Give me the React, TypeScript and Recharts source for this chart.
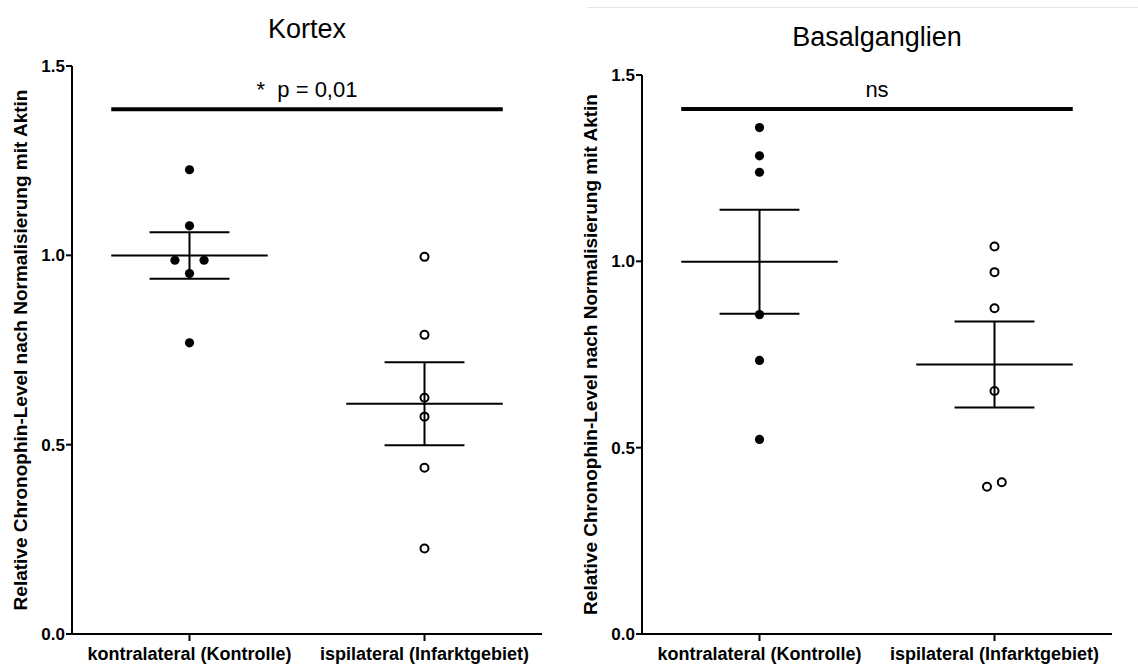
import { ReferenceLine, Scatter, ScatterChart, XAxis, YAxis } from 'recharts';

// Gruppen und Achsen
const groups = ['kontralateral (Kontrolle)', 'ispilateral (Infarktgebiet)'];
const yTicks = [0, 0.5, 1.0, 1.5];

// Kortex (Einzelwerte, Jitter in Kategorie-Einheiten)
const kortexKontrolle = [1.226, 1.078, 0.987, 0.987, 0.952, 0.769];
const kortexKontrolleJitter = [0, 0, -0.062, 0.062, 0, 0];
const kortexInfarkt = [0.996, 0.79, 0.624, 0.574, 0.439, 0.226];
const kortexInfarktJitter = [0, 0, 0, 0, 0, 0];
const kortexSig = { y: 1.386, text: '*\u00A0 p = 0,01' };

// Basalganglien
const basalKontrolle = [1.359, 1.283, 1.239, 0.857, 0.734, 0.522];
const basalKontrolleJitter = [0, 0, 0, 0, 0, 0];
const basalInfarkt = [1.04, 0.971, 0.874, 0.652, 0.395, 0.407];
const basalInfarktJitter = [0, 0, 0, 0, -0.032, 0.031];
const basalSig = { y: 1.409, text: 'ns' };

const FONT = '"Liberation Sans", Arial, Helvetica, sans-serif';
const MEAN_HALF = 0.333;
const CAP_HALF = 0.17;

const toPoints = (values: number[], jitter: number[], group: number) =>
  values.map((y, i) => ({ x: group + jitter[i], y }));

const mean = (v: number[]) => v.reduce((a, b) => a + b, 0) / v.length;
const sem = (v: number[]) => {
  const m = mean(v);
  const sd = Math.sqrt(v.reduce((a, b) => a + (b - m) ** 2, 0) / (v.length - 1));
  return sd / Math.sqrt(v.length);
};

const FilledDot = (props: any) => <circle cx={props.cx} cy={props.cy} r={4.6} fill="#000" />;
const OpenDot = (props: any) => (
  <circle cx={props.cx} cy={props.cy} r={4} fill="none" stroke="#000" strokeWidth={2} />
);

// Mittelwert-Linie + SEM-Balken als Referenzlinien
const meanSem = (values: number[], group: number) => {
  const m = mean(values);
  const s = sem(values);
  const line = { stroke: '#000', strokeWidth: 2, ifOverflow: 'visible' as const };
  return [
    <ReferenceLine key={`m${group}`} {...line} segment={[{ x: group - MEAN_HALF, y: m }, { x: group + MEAN_HALF, y: m }]} />,
    <ReferenceLine key={`v${group}`} {...line} segment={[{ x: group, y: m - s }, { x: group, y: m + s }]} />,
    <ReferenceLine key={`t${group}`} {...line} segment={[{ x: group - CAP_HALF, y: m + s }, { x: group + CAP_HALF, y: m + s }]} />,
    <ReferenceLine key={`b${group}`} {...line} segment={[{ x: group - CAP_HALF, y: m - s }, { x: group + CAP_HALF, y: m - s }]} />,
  ];
};

type PanelProps = {
  left: number;
  title: string;
  titleBaseline: number;
  marginTop: number;
  kontrolle: number[];
  kontrolleJitter: number[];
  infarkt: number[];
  infarktJitter: number[];
  sig: { y: number; text: string };
};

const W = 560;
const H = 664;
const M_LEFT = 12;
const Y_W = 60;
const M_RIGHT = 18;

const Panel = ({ left, title, titleBaseline, marginTop, kontrolle, kontrolleJitter, infarkt, infarktJitter, sig }: PanelProps) => {
  const plotLeft = M_LEFT + Y_W;
  const plotWidth = W - plotLeft - M_RIGHT;
  const titleSize = 27;
  return (
    <div style={{ position: 'absolute', left, top: 0, width: W, height: H }}>
      <div
        style={{
          position: 'absolute',
          left: plotLeft,
          width: plotWidth,
          top: titleBaseline - 0.8465 * titleSize,
          textAlign: 'center',
          fontFamily: FONT,
          fontSize: titleSize,
          lineHeight: 1,
          color: '#000',
        }}
      >
        {title}
      </div>
      <ScatterChart width={W} height={H} margin={{ top: marginTop, right: M_RIGHT, bottom: 0, left: M_LEFT }}>
        <XAxis
          type="number"
          dataKey="x"
          domain={[0.5, 2.5]}
          ticks={[1, 2]}
          tickFormatter={(v: number) => groups[v - 1]}
          height={30}
          axisLine={{ stroke: '#000', strokeWidth: 2 }}
          tickLine={{ stroke: '#000', strokeWidth: 2 }}
          tickSize={7}
          tickMargin={6}
          tick={{ fill: '#000', fontSize: 18, fontWeight: 'bold', fontFamily: FONT }}
        />
        <YAxis
          type="number"
          dataKey="y"
          domain={[0, 1.5]}
          ticks={yTicks}
          tickFormatter={(v: number) => v.toFixed(1)}
          width={Y_W}
          axisLine={{ stroke: '#000', strokeWidth: 2 }}
          tickLine={{ stroke: '#000', strokeWidth: 2 }}
          tickSize={6}
          tickMargin={1}
          tick={{ fill: '#000', fontSize: 17, fontWeight: 'bold', fontFamily: FONT }}
          label={{
            value: 'Relative Chronophin-Level nach Normalisierung mit Aktin',
            angle: -90,
            position: 'insideLeft',
            offset: 8,
            fill: '#000',
            fontSize: 19,
            fontWeight: 'bold',
            fontFamily: FONT,
            style: { textAnchor: 'middle' },
          }}
        />
        <ReferenceLine
          stroke="#000"
          strokeWidth={4}
          ifOverflow="visible"
          segment={[{ x: 1 - MEAN_HALF, y: sig.y }, { x: 2 + MEAN_HALF, y: sig.y }]}
          label={{ value: sig.text, position: 'top', offset: 12, fill: '#000', fontSize: 22, fontFamily: FONT }}
        />
        {meanSem(kontrolle, 1)}
        {meanSem(infarkt, 2)}
        <Scatter data={toPoints(kontrolle, kontrolleJitter, 1)} shape={FilledDot} isAnimationActive={false} />
        <Scatter data={toPoints(infarkt, infarktJitter, 2)} shape={OpenDot} isAnimationActive={false} />
      </ScatterChart>
    </div>
  );
};

export default function App() {
  return (
    <div style={{ position: 'relative', width: 1138, height: 664, background: '#fff', overflow: 'hidden' }}>
      <style>{'body{margin:0;background:#fff}'}</style>
      <div style={{ position: 'absolute', left: 587, top: 7, width: 551, height: 1, background: '#e6e6e6' }} />
      <Panel
        left={0}
        title="Kortex"
        titleBaseline={39}
        marginTop={66}
        kontrolle={kortexKontrolle}
        kontrolleJitter={kortexKontrolleJitter}
        infarkt={kortexInfarkt}
        infarktJitter={kortexInfarktJitter}
        sig={kortexSig}
      />
      <Panel
        left={570}
        title="Basalganglien"
        titleBaseline={47}
        marginTop={75}
        kontrolle={basalKontrolle}
        kontrolleJitter={basalKontrolleJitter}
        infarkt={basalInfarkt}
        infarktJitter={basalInfarktJitter}
        sig={basalSig}
      />
    </div>
  );
}
